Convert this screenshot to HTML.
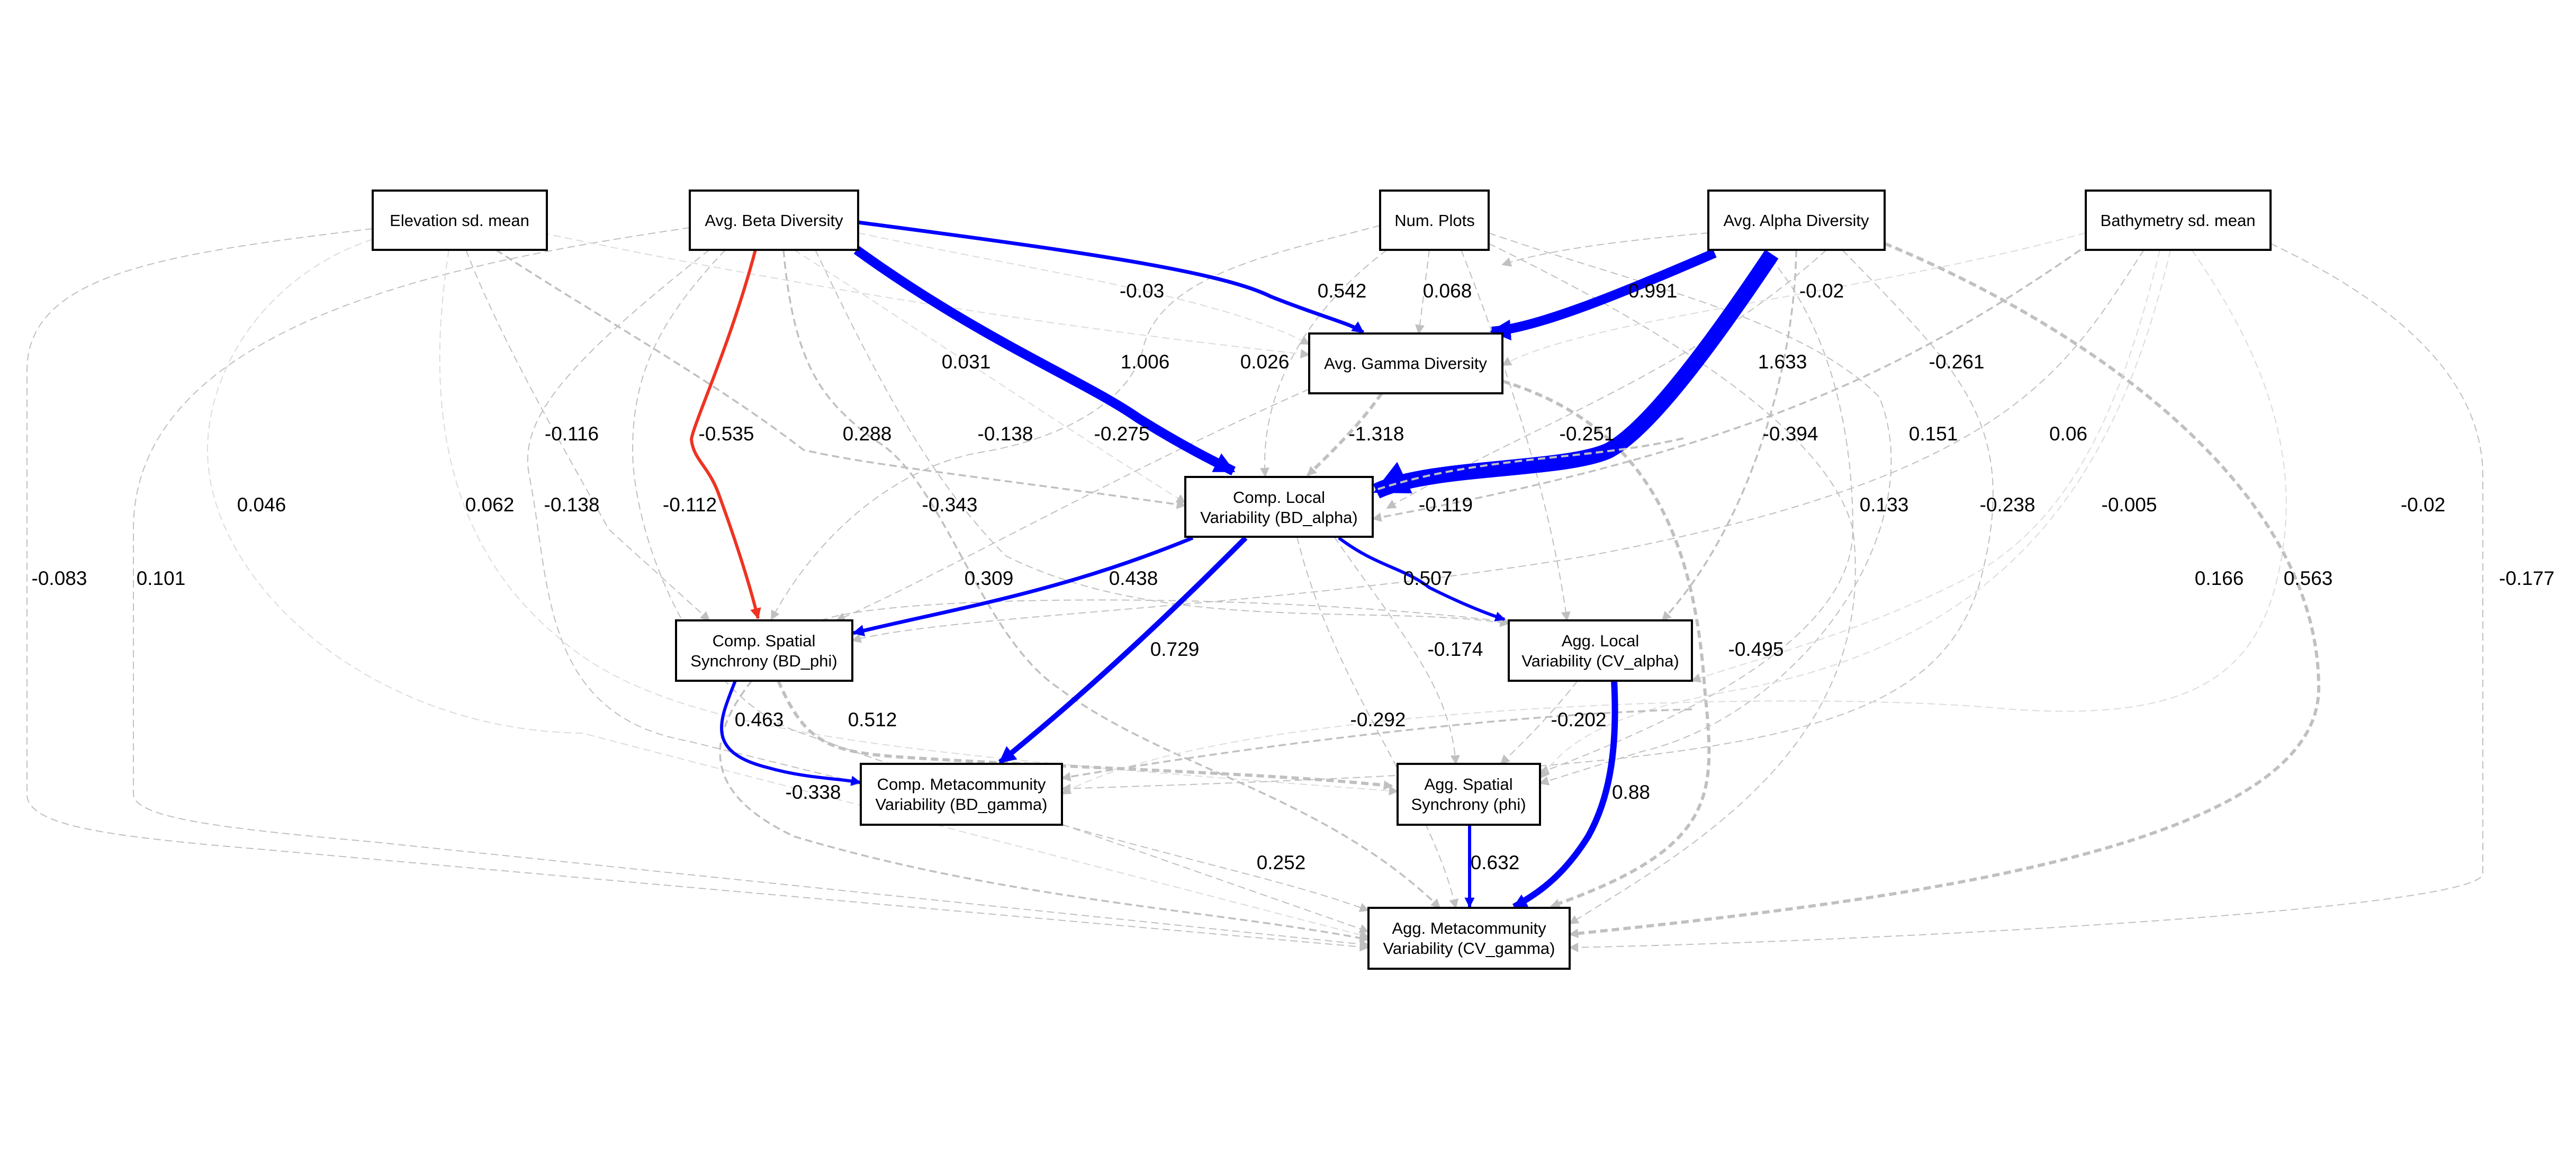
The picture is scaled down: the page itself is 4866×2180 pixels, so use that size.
<!DOCTYPE html>
<html><head><meta charset="utf-8"><style>
html,body{margin:0;padding:0;background:#fff;}
svg{display:block;}
.n{fill:#fff;stroke:#000;stroke-width:4;}
.t{font-family:"Liberation Sans",Arial,sans-serif;font-size:31px;fill:#000;text-anchor:middle;}
.l{font-family:"Liberation Sans",Arial,sans-serif;font-size:37px;fill:#000;text-anchor:middle;}
.g{fill:none;stroke:#c0c0c0;stroke-dasharray:14 8;}
.g1{stroke-width:2;}
.g2{stroke-width:3.5;}
.g3{stroke-width:6;}
.gl{fill:none;stroke:#dcdcdc;stroke-width:2;stroke-dasharray:14 8;}
.b{fill:none;stroke:#0000ff;}
</style></head><body>
<svg width="4866" height="2180" viewBox="0 0 4866 2180" xmlns="http://www.w3.org/2000/svg">
<defs>
<marker id="ga" viewBox="0 0 10 10" refX="9" refY="5" markerWidth="24" markerHeight="18" markerUnits="userSpaceOnUse" orient="auto"><path d="M0,0 L10,5 L0,10 z" fill="#c0c0c0"/></marker>
<marker id="gb" viewBox="0 0 10 10" refX="9" refY="5" markerWidth="3" markerHeight="3" orient="auto"><path d="M0,0 L10,5 L0,10 z" fill="#c0c0c0"/></marker>
<marker id="ba" viewBox="0 0 10 10" refX="9" refY="5" markerWidth="3.2" markerHeight="3.2" orient="auto"><path d="M0,0 L10,5 L0,10 z" fill="#0000ff"/></marker>
<marker id="bt" viewBox="0 0 10 10" refX="9" refY="5" markerWidth="2.2" markerHeight="2.6" orient="auto"><path d="M0,0 L10,5 L0,10 z" fill="#0000ff"/></marker>
<marker id="ra" viewBox="0 0 10 10" refX="9" refY="5" markerWidth="4" markerHeight="3.5" orient="auto"><path d="M0,0 L10,5 L0,10 z" fill="#ee3322"/></marker>
</defs>

<path class="g g1" marker-end="url(#ga)" d="M704,432 C300,480 51,520 51,700 L51,1500 C51,1560 200,1580 500,1605 L2585,1790"/>
<path class="g g1" marker-end="url(#ga)" d="M1303,430 C900,490 252,600 252,1000 L252,1500 C252,1545 420,1565 700,1590 L2585,1785"/>
<path class="gl" marker-end="url(#ga)" d="M704,452 C500,520 392,700 392,850 C392,1100 700,1380 1100,1385 L2585,1770"/>
<path class="gl" marker-end="url(#ga)" d="M848,472 C812,700 812,1000 1050,1200 C1250,1380 1626,1420 2640,1495"/>
<path class="g g1" marker-end="url(#ga)" d="M880,472 C950,650 1050,820 1150,1000 L1340,1172"/>
<path class="g g2" marker-end="url(#ga)" d="M937,472 C1100,580 1350,720 1518,850 C1650,880 1850,900 2239,955"/>
<path class="g g1" marker-end="url(#ga)" d="M1340,472 C1050,700 980,800 1000,900 C1040,1100 1020,1350 1300,1400 L1626,1480"/>
<path class="g g1" marker-end="url(#ga)" d="M1370,472 C1250,600 1195,700 1195,850 C1195,1000 1300,1300 1500,1380 L2585,1760"/>
<path class="gl" marker-end="url(#ga)" d="M1500,472 C1700,600 2000,800 2239,950"/>
<path class="g g2" marker-end="url(#ga)" d="M1480,472 C1500,700 1560,760 1650,830 C1780,900 1850,1200 2000,1300 C2200,1450 2500,1500 2720,1715"/>
<path class="g g1" marker-end="url(#ga)" d="M1540,472 C1650,700 1750,900 1900,1050 C2200,1200 2600,1140 2850,1178"/>
<path class="gl" marker-end="url(#ga)" d="M1621,440 C2000,520 2300,560 2473,650"/>
<path class="gl" marker-end="url(#ga)" d="M1024,440 C1500,540 2000,620 2473,670"/>
<path class="g g1" marker-end="url(#ga)" d="M2607,426 C2400,480 2200,520 2161,651 C2140,760 2000,830 1855,854 C1700,880 1549,1000 1457,1170"/>
<path class="g g1" marker-end="url(#ga)" d="M2620,472 C2450,600 2380,760 2390,900"/>
<path class="g g1" marker-end="url(#ga)" d="M2700,472 L2680,630"/>
<path class="g g1" marker-end="url(#ga)" d="M2760,472 C2850,700 2930,950 2960,1172"/>
<path class="g g1" marker-end="url(#ga)" d="M2812,440 C3100,540 3400,600 3550,750 C3650,1000 3400,1350 3100,1420 L2909,1480"/>
<path class="g g1" marker-end="url(#ga)" d="M2812,460 C3100,600 3450,800 3500,1000 C3550,1400 3200,1600 2965,1745"/>
<path class="g g3" marker-end="url(#gb)" d="M2610,743 C2570,800 2520,850 2470,898"/>
<path class="g g3" marker-end="url(#gb)" d="M2838,720 C3100,800 3200,1000 3220,1300 C3240,1500 3250,1600 2930,1712"/>
<path class="g g3" marker-end="url(#gb)" d="M3560,460 C3900,600 4380,900 4380,1300 C4380,1600 3600,1700 2965,1765"/>
<path class="g g2" marker-end="url(#ga)" d="M3393,472 C3390,700 3300,1000 3140,1172"/>
<path class="g g1" marker-end="url(#ga)" d="M3330,472 C3450,600 3500,800 3500,1000 C3500,1200 3200,1350 2909,1460"/>
<path class="g g1" marker-end="url(#ga)" d="M3480,472 C3700,700 3820,800 3740,1100 C3650,1400 3300,1450 2006,1490"/>
<path class="g g1" marker-end="url(#ga)" d="M3227,440 C3000,460 2900,480 2838,500"/>
<path class="g g1" marker-end="url(#ga)" d="M3450,472 C3200,700 2900,800 2620,960"/>
<path class="g g2" marker-end="url(#ga)" d="M3930,472 C3600,700 3300,850 2593,980"/>
<path class="g g1" marker-end="url(#ga)" d="M4050,472 C3900,700 3800,900 3000,1050 C2400,1150 1800,1160 1610,1210"/>
<path class="gl" marker-end="url(#ga)" d="M4080,472 C4000,800 3900,1000 3700,1100 C3500,1200 3300,1250 3196,1286"/>
<path class="gl" marker-end="url(#ga)" d="M4100,472 C4000,900 3800,1200 3300,1300 C3000,1350 2950,1420 2909,1470"/>
<path class="gl" marker-end="url(#ga)" d="M4140,472 C4300,700 4350,900 4300,1100 C4250,1300 4100,1360 3800,1340 C3400,1300 2300,1330 2006,1500"/>
<path class="g g1" marker-end="url(#ga)" d="M4289,460 C4500,560 4690,700 4690,900 L4690,1650 C4690,1720 3500,1780 2965,1790"/>
<path class="gl" marker-end="url(#ga)" d="M3940,440 C3500,560 3000,600 2838,690"/>
<path class="g g1" marker-end="url(#ga)" d="M2473,735 C2100,900 1750,1100 1580,1172"/>
<path class="g g1" marker-end="url(#ga)" d="M2450,1014 C2520,1300 2700,1500 2750,1715"/>
<path class="g g1" marker-end="url(#ga)" d="M2520,1014 C2650,1200 2740,1300 2750,1443"/>
<path class="g g1" marker-end="url(#ga)" d="M2980,1286 C2930,1350 2880,1400 2835,1443"/>
<path class="g g1" marker-end="url(#ga)" d="M2006,1558 C2300,1640 2450,1670 2585,1720"/>
<path class="g g2" marker-end="url(#ga)" d="M1420,1286 C1330,1400 1330,1500 1500,1580 C1900,1700 2300,1720 2585,1775"/>
<path class="g g3" marker-end="url(#gb)" d="M1470,1286 C1520,1400 1560,1420 1700,1430 C2000,1450 2400,1460 2630,1485"/>
<path class="g g2" marker-end="url(#ga)" d="M3196,1340 C2800,1350 2300,1420 2006,1470"/>
<path class="g g1" marker-end="url(#ga)" d="M1550,1172 C1700,1120 2400,1120 2850,1175"/>

<path class="b" stroke-width="7" marker-end="url(#ba)" d="M1621,420 C2000,470 2300,510 2400,560 C2500,600 2550,610 2575,628"/>
<path class="b" stroke-width="18" marker-end="url(#bt)" d="M1618,472 C1850,640 2050,720 2150,790 C2230,840 2290,870 2330,890"/>
<path fill="none" stroke="#ee3322" stroke-width="6" marker-end="url(#ra)" d="M1427,472 C1380,650 1310,800 1306,830 C1310,870 1340,880 1360,940 C1400,1050 1420,1120 1432,1168"/>
<path class="b" stroke-width="18" marker-end="url(#bt)" d="M3239,478 C3050,560 2900,620 2818,626"/>
<path class="b" stroke-width="30" marker-end="url(#bt)" d="M3347,480 C3200,700 3100,820 3037,852 C2950,890 2700,880 2600,928"/>
<path fill="none" stroke="#c0c0c0" stroke-width="4" stroke-dasharray="14 8" d="M3180,828 C3000,870 2800,860 2600,925"/>
<path class="b" stroke-width="7" marker-end="url(#ba)" d="M2253,1016 C2000,1120 1800,1150 1612,1196"/>
<path class="b" stroke-width="10" marker-end="url(#ba)" d="M2353,1016 C2150,1220 2000,1350 1889,1440"/>
<path class="b" stroke-width="6" marker-end="url(#ba)" d="M2529,1016 C2600,1070 2651,1072 2700,1110 C2760,1140 2810,1160 2842,1170"/>
<path class="b" stroke-width="6" marker-end="url(#ba)" d="M1389,1286 C1360,1360 1330,1420 1450,1450 C1520,1470 1580,1470 1625,1478"/>
<path class="b" stroke-width="6" marker-end="url(#ba)" d="M2776,1558 L2776,1713"/>
<path class="b" stroke-width="12" marker-end="url(#bt)" d="M3049,1286 C3055,1400 3045,1500 3000,1580 C2950,1660 2900,1690 2860,1713"/>

<rect class="n" x="704" y="360" width="329" height="112"/><text class="t" x="868" y="427">Elevation sd. mean</text>
<rect class="n" x="1303" y="360" width="318" height="112"/><text class="t" x="1462" y="427">Avg. Beta Diversity</text>
<rect class="n" x="2607" y="360" width="205" height="112"/><text class="t" x="2710" y="427">Num. Plots</text>
<rect class="n" x="3227" y="360" width="333" height="112"/><text class="t" x="3393" y="427">Avg. Alpha Diversity</text>
<rect class="n" x="3940" y="360" width="349" height="112"/><text class="t" x="4114" y="427">Bathymetry sd. mean</text>
<rect class="n" x="2473" y="630" width="365" height="113"/><text class="t" x="2655" y="697">Avg. Gamma Diversity</text>
<rect class="n" x="2239" y="901" width="354" height="113"/><text class="t" x="2416" y="950">Comp. Local</text><text class="t" x="2416" y="988">Variability (BD_alpha)</text>
<rect class="n" x="1277" y="1172" width="333" height="114"/><text class="t" x="1443" y="1221">Comp. Spatial</text><text class="t" x="1443" y="1259">Synchrony (BD_phi)</text>
<rect class="n" x="2850" y="1172" width="346" height="114"/><text class="t" x="3023" y="1221">Agg. Local</text><text class="t" x="3023" y="1259">Variability (CV_alpha)</text>
<rect class="n" x="1626" y="1443" width="380" height="115"/><text class="t" x="1816" y="1492">Comp. Metacommunity</text><text class="t" x="1816" y="1530">Variability (BD_gamma)</text>
<rect class="n" x="2640" y="1443" width="269" height="115"/><text class="t" x="2774" y="1492">Agg. Spatial</text><text class="t" x="2774" y="1530">Synchrony (phi)</text>
<rect class="n" x="2585" y="1715" width="380" height="115"/><text class="t" x="2775" y="1764">Agg. Metacommunity</text><text class="t" x="2775" y="1802">Variability (CV_gamma)</text>

<g>
<text class="l" x="2157" y="562">-0.03</text>
<text class="l" x="2535" y="562">0.542</text>
<text class="l" x="2734" y="562">0.068</text>
<text class="l" x="3122" y="562">0.991</text>
<text class="l" x="3441" y="562">-0.02</text>
<text class="l" x="1825" y="696">0.031</text>
<text class="l" x="2163" y="696">1.006</text>
<text class="l" x="2389" y="696">0.026</text>
<text class="l" x="3367" y="696">1.633</text>
<text class="l" x="3696" y="696">-0.261</text>
<text class="l" x="1080" y="832">-0.116</text>
<text class="l" x="1372" y="832">-0.535</text>
<text class="l" x="1638" y="832">0.288</text>
<text class="l" x="1899" y="832">-0.138</text>
<text class="l" x="2119" y="832">-0.275</text>
<text class="l" x="2600" y="832">-1.318</text>
<text class="l" x="2998" y="832">-0.251</text>
<text class="l" x="3382" y="832">-0.394</text>
<text class="l" x="3652" y="832">0.151</text>
<text class="l" x="3907" y="832">0.06</text>
<text class="l" x="494" y="966">0.046</text>
<text class="l" x="925" y="966">0.062</text>
<text class="l" x="1080" y="966">-0.138</text>
<text class="l" x="1303" y="966">-0.112</text>
<text class="l" x="1794" y="966">-0.343</text>
<text class="l" x="2731" y="966">-0.119</text>
<text class="l" x="3559" y="966">0.133</text>
<text class="l" x="3792" y="966">-0.238</text>
<text class="l" x="4022" y="966">-0.005</text>
<text class="l" x="4577" y="966">-0.02</text>
<text class="l" x="112" y="1105">-0.083</text>
<text class="l" x="304" y="1105">0.101</text>
<text class="l" x="1868" y="1105">0.309</text>
<text class="l" x="2141" y="1105">0.438</text>
<text class="l" x="2697" y="1105">0.507</text>
<text class="l" x="4192" y="1105">0.166</text>
<text class="l" x="4360" y="1105">0.563</text>
<text class="l" x="4773" y="1105">-0.177</text>
<text class="l" x="2219" y="1239">0.729</text>
<text class="l" x="2749" y="1239">-0.174</text>
<text class="l" x="3317" y="1239">-0.495</text>
<text class="l" x="1434" y="1372">0.463</text>
<text class="l" x="1648" y="1372">0.512</text>
<text class="l" x="2603" y="1372">-0.292</text>
<text class="l" x="2982" y="1372">-0.202</text>
<text class="l" x="1536" y="1509">-0.338</text>
<text class="l" x="3081" y="1509">0.88</text>
<text class="l" x="2420" y="1642">0.252</text>
<text class="l" x="2824" y="1642">0.632</text>
</g>
</svg>
</body></html>
